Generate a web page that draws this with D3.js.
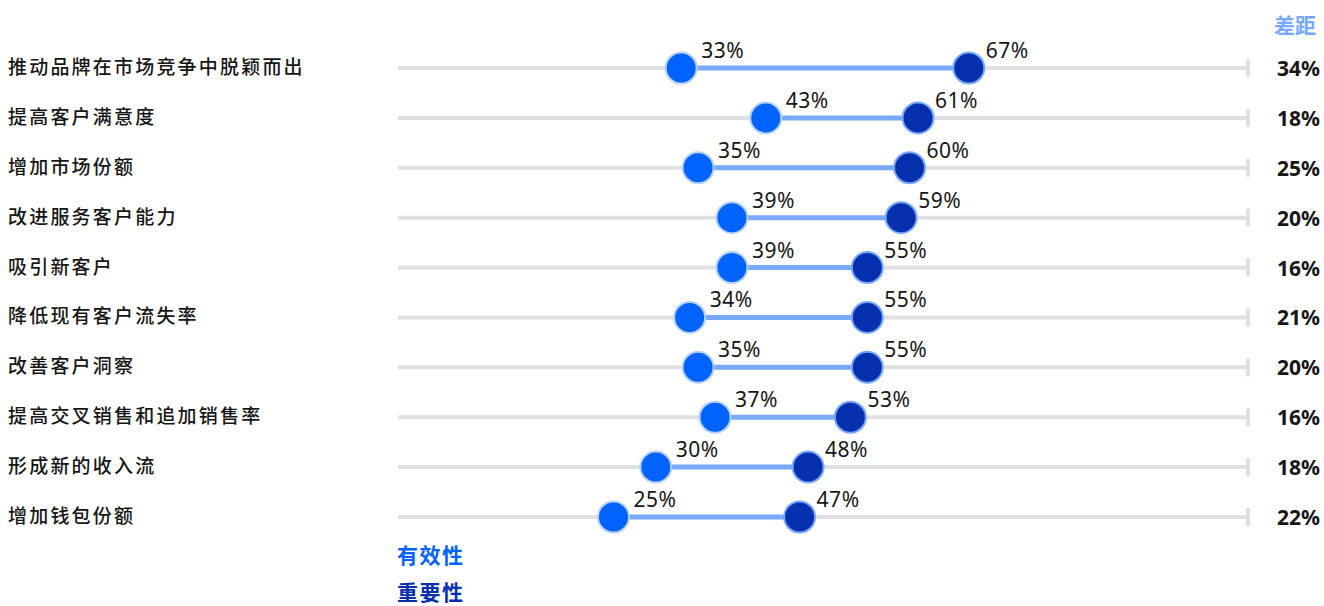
<!DOCTYPE html>
<html>
<head>
<meta charset="utf-8">
<script src="https://cdn.jsdelivr.net/npm/d3@7"></script>
<style>
  body { margin: 0; background: #fff; }
  .cat { font-family: "Noto Sans CJK SC", sans-serif; font-size: 19px; font-weight: 500; fill: #161616; letter-spacing: 2.2px; }
  .val { font-family: "Noto Sans", "Open Sans", sans-serif; font-size: 21px; fill: #161616; letter-spacing: 0.5px; }
  .gap { font-family: "Noto Sans", "Open Sans", sans-serif; font-size: 21px; font-weight: 700; fill: #161616; }
  .head { font-family: "Noto Sans CJK SC", sans-serif; font-weight: 700; }
</style>
</head>
<body>
<svg width="1324" height="606"></svg>
<script>
const categories = ["推动品牌在市场竞争中脱颖而出","提高客户满意度","增加市场份额","改进服务客户能力","吸引新客户",
  "降低现有客户流失率","改善客户洞察","提高交叉销售和追加销售率","形成新的收入流","增加钱包份额"];
const effectiveness = [33, 43, 35, 39, 39, 34, 35, 37, 30, 25];
const importance = [67, 61, 60, 59, 55, 55, 55, 53, 48, 47];
const gaps = ["34%","18%","25%","20%","16%","21%","20%","16%","18%","22%"];

const svg = d3.select("svg");
const data = categories.map((c, i) => ({ c, e: effectiveness[i], m: importance[i], g: gaps[i] }));

const x = d3.scaleLinear().domain([0, 100]).range([402, 1248]);
const y = d3.scalePoint().domain(categories).range([68, 517]);

const row = svg.append("g").selectAll("g").data(data).join("g")
  .attr("transform", d => `translate(0,${y(d.c)})`);

row.append("text").attr("class", "cat").attr("x", 8).attr("y", 6).text(d => d.c);

// grey track with end tick
row.append("line").attr("x1", 398).attr("x2", x(100))
  .attr("stroke", "#e0e0e0").attr("stroke-width", 4);
row.append("line").attr("x1", x(100)).attr("x2", x(100)).attr("y1", -9).attr("y2", 9)
  .attr("stroke", "#e0e0e0").attr("stroke-width", 4);

row.append("line").attr("x1", d => x(d.e)).attr("x2", d => x(d.m))
  .attr("stroke", "#78a9ff").attr("stroke-width", 5);

row.append("circle").attr("cx", d => x(d.e)).attr("r", 15.5)
  .attr("fill", "#0062ff").attr("stroke", "#b3d0ff").attr("stroke-width", 2);
row.append("circle").attr("cx", d => x(d.m)).attr("r", 15.5)
  .attr("fill", "#0530ad").attr("stroke", "#78a9ff").attr("stroke-width", 2);

row.append("text").attr("class", "val").attr("x", d => x(d.e) + 20).attr("y", -10).text(d => d.e + "%");
row.append("text").attr("class", "val").attr("x", d => x(d.m) + 17).attr("y", -10).text(d => d.m + "%");

row.append("text").attr("class", "gap").attr("x", 1320).attr("y", 8)
  .attr("text-anchor", "end").text(d => d.g);

svg.append("text").attr("class", "head").attr("x", 1316).attr("y", 33)
  .attr("text-anchor", "end").attr("font-size", 21).attr("fill", "#78a9ff").text("差距");

svg.append("text").attr("class", "head").attr("x", 397).attr("y", 563)
  .attr("font-size", 21).attr("letter-spacing", 1.5).attr("fill", "#0062ff").text("有效性");
svg.append("text").attr("class", "head").attr("x", 397).attr("y", 600)
  .attr("font-size", 21).attr("letter-spacing", 1.5).attr("fill", "#0530ad").text("重要性");
</script>
</body>
</html>
